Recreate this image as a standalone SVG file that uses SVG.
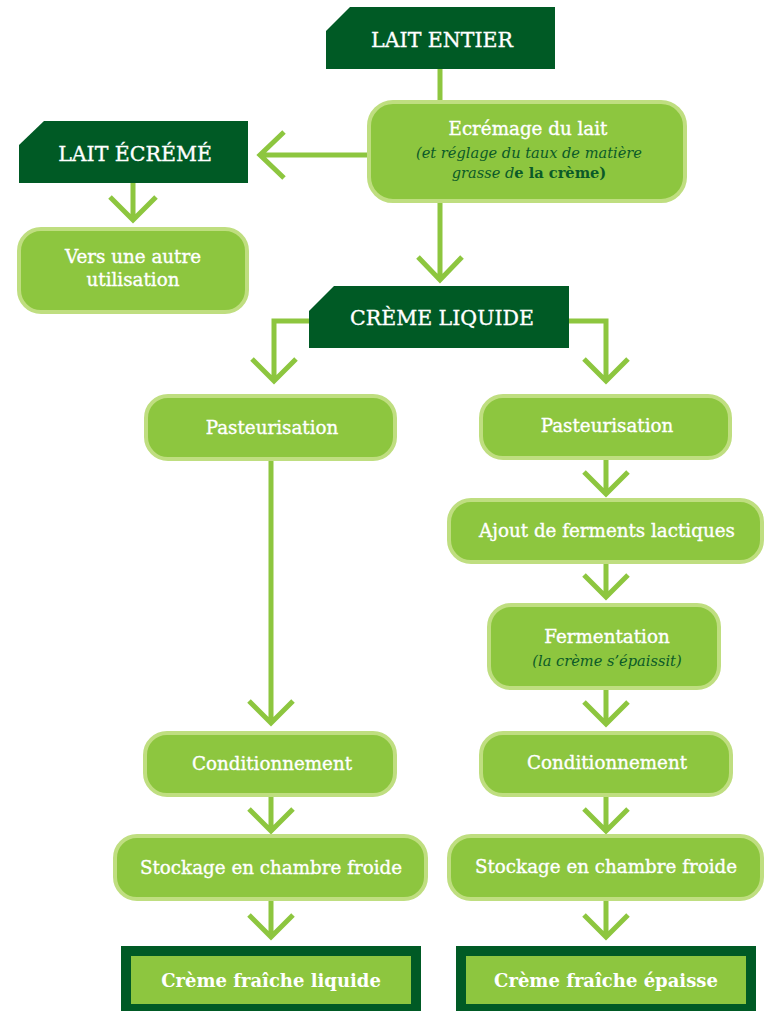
<svg xmlns="http://www.w3.org/2000/svg" width="767" height="1011" viewBox="0 0 767 1011">
<defs>
<style>
.hdr{fill:#005a25}
.box{fill:#8dc63f;stroke:#bfde80;stroke-width:4}
.fin{fill:#8dc63f;stroke:#005a25;stroke-width:10}
.ln{fill:none;stroke:#8dc63f;stroke-width:5}
.t{font-family:"DejaVu Serif",serif;fill:#ffffff;stroke:#ffffff;stroke-width:0.35;text-anchor:middle}
.h{font-size:20.5px}
.n{font-size:18.3px}
.it{font-family:"DejaVu Serif",serif;font-style:italic;fill:#0b5a28;font-size:14.6px;text-anchor:middle}
.fb{font-weight:bold;font-size:18px;stroke-width:0}
</style>
</defs>
<rect width="767" height="1011" fill="#ffffff"/>
<g id="connectors">
<path class="ln" d="M440,69 V100"/>
<path class="ln" d="M367,155 H260 M284,132 L260,155 L284,178"/>
<path class="ln" d="M440,203 V280 M418,257 L440,280 L462,257"/>
<path class="ln" d="M133,183 V220 M110,197 L133,220 L156,197"/>
<path class="ln" d="M309,321 H274 V381 M252,359 L274,381 L296,359"/>
<path class="ln" d="M569,321 H606 V381 M584,359 L606,381 L628,359"/>
<path class="ln" d="M271,461 V723 M249,701 L271,723 L293,701"/>
<path class="ln" d="M271,797 V831 M249,809 L271,831 L293,809"/>
<path class="ln" d="M271,901 V937 M249,915 L271,937 L293,915"/>
<path class="ln" d="M606,460 V494 M584,472 L606,494 L628,472"/>
<path class="ln" d="M606,564 V597 M584,575 L606,597 L628,575"/>
<path class="ln" d="M606,690 V724 M584,702 L606,724 L628,702"/>
<path class="ln" d="M606,797 V831 M584,809 L606,831 L628,809"/>
<path class="ln" d="M606,901 V937 M584,915 L606,937 L628,915"/>
</g>
<g id="lait-entier">
<polygon class="hdr" points="326,31 350,7 555,7 555,69 326,69"/>
<text class="t h" x="442" y="47">LAIT ENTIER</text>
</g>
<g id="ecremage">
<rect class="box" x="369" y="102" width="316" height="99" rx="24"/>
<text class="t n" x="528" y="135">Ecrémage du lait</text>
<text class="it" x="529" y="158">(et réglage du taux de matière</text>
<text class="it" x="529" y="178">grasse d<tspan style="font-style:normal;font-weight:bold">e la crème)</tspan></text>
</g>
<g id="lait-ecreme">
<polygon class="hdr" points="19,145 44,121 248,121 248,183 19,183"/>
<text class="t h" x="135" y="161">LAIT ÉCRÉMÉ</text>
</g>
<g id="autre-utilisation">
<rect class="box" x="19" y="229" width="228" height="83" rx="22"/>
<text class="t n" x="133" y="263">Vers une autre</text>
<text class="t n" x="133" y="286">utilisation</text>
</g>
<g id="creme-liquide">
<polygon class="hdr" points="309,311 334,286 569,286 569,348 309,348"/>
<text class="t h" x="442" y="325">CRÈME LIQUIDE</text>
</g>
<g id="pasteurisation-1">
<rect class="box" x="146" y="396" width="249" height="63" rx="22"/>
<text class="t n" x="272" y="434">Pasteurisation</text>
</g>
<g id="pasteurisation-2">
<rect class="box" x="481" y="396" width="249" height="62" rx="22"/>
<text class="t n" x="607" y="432">Pasteurisation</text>
</g>
<g id="ajout-ferments">
<rect class="box" x="449" y="500" width="313" height="62" rx="22"/>
<text class="t n" x="607" y="537">Ajout de ferments lactiques</text>
</g>
<g id="fermentation">
<rect class="box" x="489" y="605" width="230" height="83" rx="22"/>
<text class="t n" x="607" y="643">Fermentation</text>
<text class="it" x="607" y="666">(la crème s’épaissit)</text>
</g>
<g id="conditionnement-1">
<rect class="box" x="145" y="733" width="250" height="62" rx="22"/>
<text class="t n" x="272" y="770">Conditionnement</text>
</g>
<g id="conditionnement-2">
<rect class="box" x="481" y="733" width="250" height="62" rx="22"/>
<text class="t n" x="607" y="769">Conditionnement</text>
</g>
<g id="stockage-1">
<rect class="box" x="115" y="836" width="311" height="63" rx="22"/>
<text class="t n" x="271" y="874">Stockage en chambre froide</text>
</g>
<g id="stockage-2">
<rect class="box" x="449" y="836" width="313" height="63" rx="22"/>
<text class="t n" x="606" y="873">Stockage en chambre froide</text>
</g>
<g id="creme-fraiche-liquide">
<rect class="fin" x="126" y="951" width="290" height="58"/>
<text class="t fb" x="271" y="987">Crème fraîche liquide</text>
</g>
<g id="creme-fraiche-epaisse">
<rect class="fin" x="461" y="951" width="290" height="58"/>
<text class="t fb" x="606" y="987">Crème fraîche épaisse</text>
</g>
</svg>
